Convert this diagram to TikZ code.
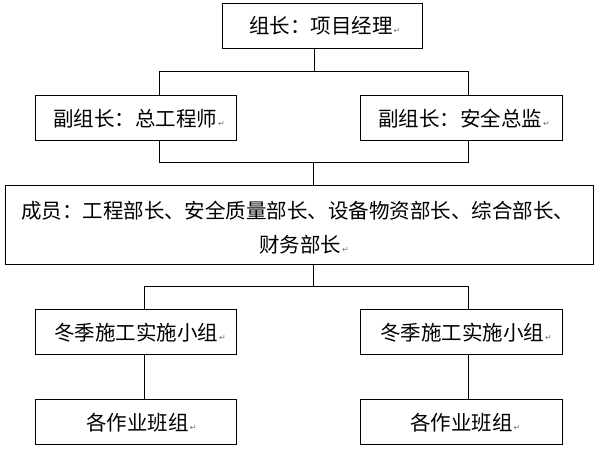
\documentclass[tikz,border=0pt]{standalone}
\usepackage{fontspec}
\newfontfamily\cjk{Noto Sans CJK SC}
\newfontfamily\markfont{DejaVu Sans}
\newcommand\pmark{\hspace{1pt}{\markfont\fontsize{8}{8}\selectfont\textcolor{black!55}{↵}}}
\begin{document}
\begin{tikzpicture}[x=1pt,y=-1pt,
  box/.style={draw, line width=0.9pt, rectangle, inner sep=0pt, outer sep=0pt, minimum height=45pt},
  lbl/.style={anchor=base west, inner sep=0pt, outer sep=0pt, font=\cjk\fontsize{20.5}{34}\selectfont},
  conn/.style={line width=0.9pt}]
\useasboundingbox (0,0) rectangle (600,450);
% boxes
\node[box, minimum width=200pt] (top) at (322,25.5) {};
\node[box, minimum width=201pt] (vL) at (135.5,117.5) {};
\node[box, minimum width=202pt] (vR) at (461,117.5) {};
\node[box, minimum width=588pt, minimum height=79pt] (mem) at (299,224.5) {};
\node[box, minimum width=201pt] (gL) at (135.5,331.5) {};
\node[box, minimum width=202pt] (gR) at (461,331.5) {};
\node[box, minimum width=201pt] (bL) at (135.5,421.5) {};
\node[box, minimum width=202pt] (bR) at (461,421.5) {};
% texts
\node[lbl] (ttop) at (249,33.5) {组长：项目经理\pmark};
\node[lbl] (tvL) at (53,126) {副组长：总工程师\pmark};
\node[lbl] (tvR) at (378,126) {副组长：安全总监\pmark};
\node[lbl] (tm1) at (21,218) {成员：工程部长、安全质量部长、设备物资部长、综合部长、};
\node[lbl] (tm2) at (259,252) {财务部长\pmark};
\node[lbl] (tgL) at (54,340) {冬季施工实施小组\pmark};
\node[lbl] (tgR) at (380,340) {冬季施工实施小组\pmark};
\node[lbl] (tbL) at (86,430) {各作业班组\pmark};
\node[lbl] (tbR) at (410,430) {各作业班组\pmark};
% junction points
\coordinate (a0) at (314,71);
\coordinate (a1) at (159,71);
\coordinate (a2) at (468,71);
\coordinate (b0) at (313,162);
\coordinate (b1) at (159,162);
\coordinate (b2) at (468,162);
\coordinate (c0) at (313,286);
\coordinate (c1) at (144,286);
\coordinate (c2) at (468,286);
% connectors
\draw[conn] (a0 |- top.south) -- (a0);
\draw[conn] (a1 |- vL.north) -- (a1) -- (a2) -- (a2 |- vR.north);
\draw[conn] (b1 |- vL.south) -- (b1) -- (b2) -- (b2 |- vR.south);
\draw[conn] (b0) -- (b0 |- mem.north);
\draw[conn] (c0 |- mem.south) -- (c0);
\draw[conn] (c1 |- gL.north) -- (c1) -- (c2) -- (c2 |- gR.north);
\draw[conn] (c1 |- gL.south) -- (c1 |- bL.north);
\draw[conn] (c2 |- gR.south) -- (c2 |- bR.north);
\end{tikzpicture}
\end{document}
